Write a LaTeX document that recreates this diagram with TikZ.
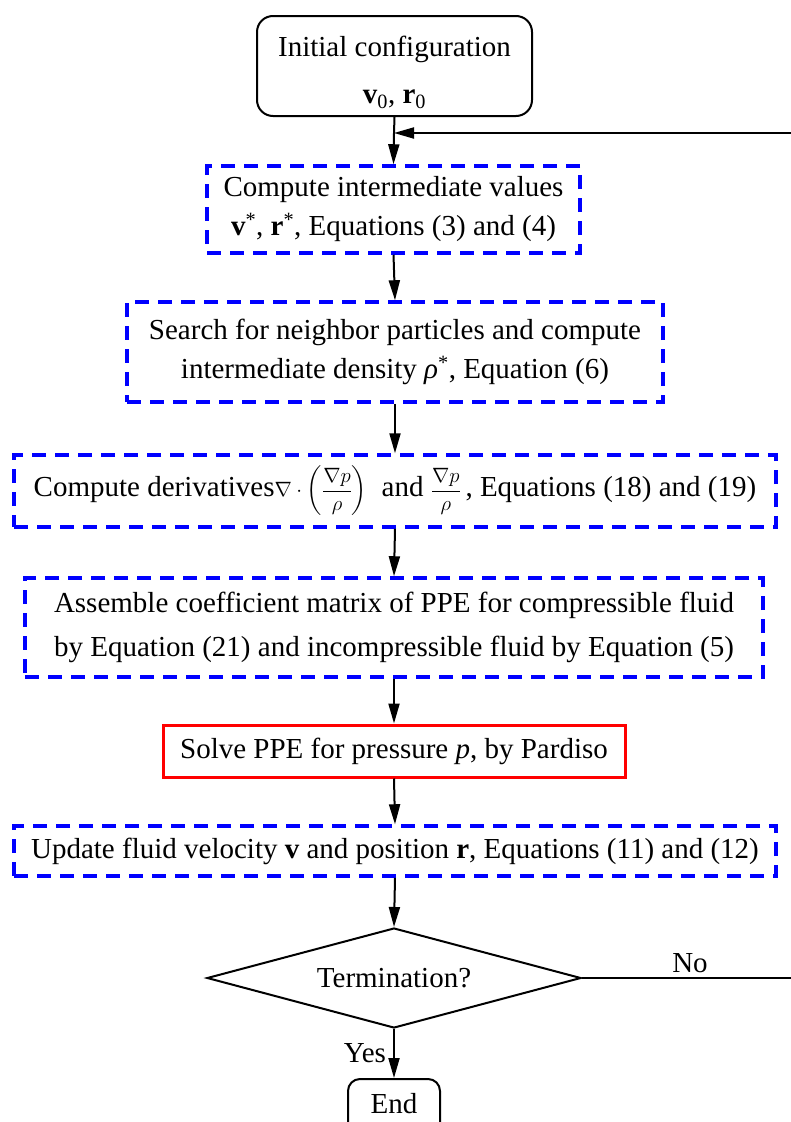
\documentclass[tikz,border=0pt]{standalone}
\usepackage{amsmath}
\usepackage{fontspec}
\setmainfont{Liberation Serif}
\usetikzlibrary{arrows.meta,shapes.geometric}
\begin{document}
\begin{tikzpicture}[x=1pt,y=-1pt,
  every node/.style={font=\fontsize{29}{39}\selectfont, align=center, inner sep=0pt},
  dbox/.style={draw=blue, line width=3.5pt, dash pattern=on 14pt off 9pt},
  rbox/.style={draw=red, line width=3pt},
  tbox/.style={draw=black, line width=2pt, rounded corners=16pt},
  arr/.style={draw=black, line width=2pt, -{Triangle[length=20pt,width=11pt]}},
  ln/.style={draw=black, line width=2pt}]
\useasboundingbox (0,0) rectangle (791,1122);
\node[tbox, minimum width=275pt, minimum height=100pt] (init) at (394.5,66)
  {\rule{0pt}{34pt}Initial configuration\\[8pt]\textbf{v}\textsubscript{0}, \textbf{r}\textsubscript{0}};
\node[dbox, minimum width=373pt, minimum height=87pt] (b1) at (393.5,209.5)
  {Compute intermediate values\\\textbf{v}\textsuperscript{*}, \textbf{r}\textsuperscript{*}, Equations (3) and (4)};
\node[dbox, minimum width=536pt, minimum height=100pt] (b2) at (395,352)
  {Search for neighbor particles and compute\\intermediate density \textit{ρ}\textsuperscript{*}, Equation (6)};
\node[dbox, minimum width=762pt, minimum height=72pt] (b3) at (395,491)
  {Compute derivatives{\fontsize{20}{22}\selectfont$\nabla\cdot\left(\dfrac{\nabla p}{\rho}\right)$}\ \ and {\fontsize{20}{22}\selectfont$\dfrac{\nabla p}{\rho}$}\,, Equations (18) and (19)};
\node[dbox, minimum width=738pt, minimum height=99pt] (b4) at (394,627.5)
  {Assemble coefficient matrix of PPE for compressible fluid\\[5pt]by Equation (21) and incompressible fluid by Equation (5)};
\node[rbox, minimum width=462pt, minimum height=52pt] (solve) at (394,751)
  {Solve PPE for pressure \textit{p}, by Pardiso};
\node[dbox, minimum width=762pt, minimum height=50pt] (b5) at (395,851)
  {Update fluid velocity \textbf{v} and position \textbf{r}, Equations (11) and (12)};
\node[draw=black, line width=2pt, diamond, aspect=3.74, minimum width=374pt, minimum height=100pt] (dia) at (394,978) {Termination?};
\node[tbox, rounded corners=12pt, minimum width=92pt, minimum height=64pt, anchor=north] (end) at (394,1078) {\raisebox{16pt}{End}};
\coordinate (fb) at (394,133);
\draw[ln] (init.south) -- (fb);
\draw[arr] (fb) -- (b1.north);
\draw[arr] (b1.south) -- (b2.north);
\draw[arr] (b2.south) -- (b3.north);
\draw[arr] (b3.south) -- (b4.north);
\draw[arr] (b4.south) -- (solve.north);
\draw[arr] (solve.south) -- (b5.north);
\draw[arr] (b5.south) -- (dia.north);
\draw[arr] (dia.south) -- node[left=7pt, pos=0.5] (yes) {Yes} (end.north);
\draw[arr] (dia.east) -- node[above=4pt, pos=0.45] (no) {No} ++(240,0) |- (fb);
\end{tikzpicture}
\end{document}
